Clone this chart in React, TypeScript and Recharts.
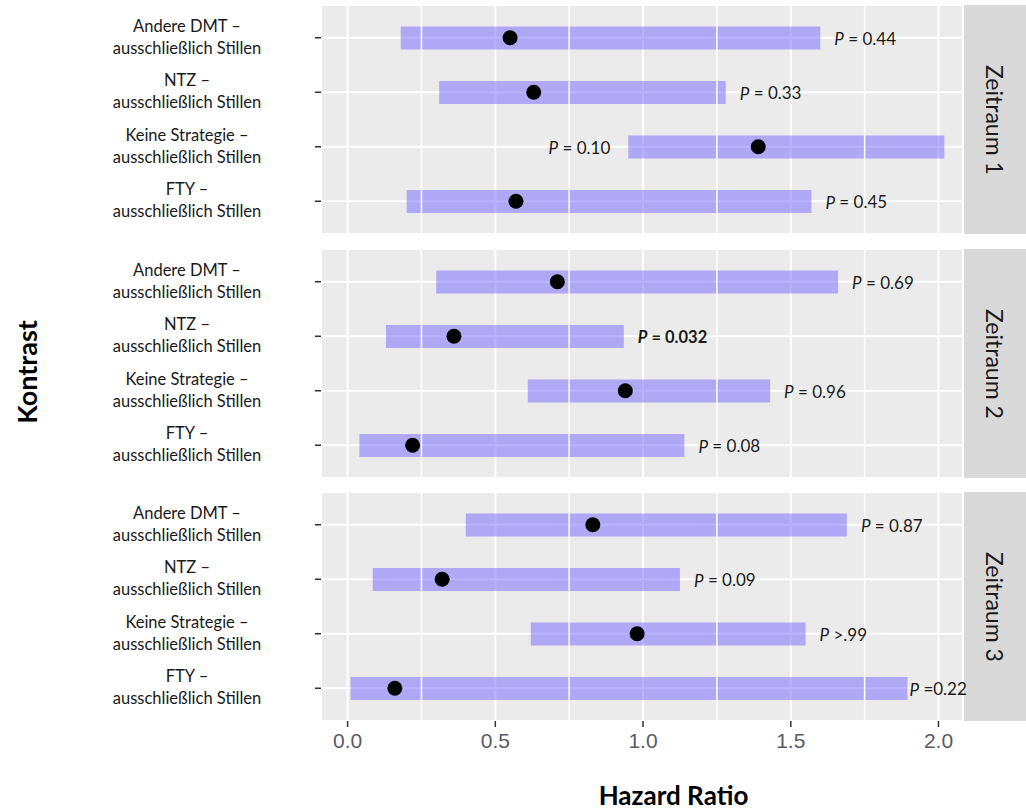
import React from "react";
import {
  Bar,
  CartesianGrid,
  ComposedChart,
  LabelList,
  ReferenceLine,
  Scatter,
  XAxis,
  YAxis,
} from "recharts";

const periods = ["Zeitraum 1", "Zeitraum 2", "Zeitraum 3"];
const contrasts = ["Andere DMT", "NTZ", "Keine Strategie", "FTY"];
const referenceGroup = "ausschließlich Stillen";

// one row per period, one value per contrast
const hazardRatio = [
  [0.55, 0.63, 1.39, 0.57],
  [0.71, 0.36, 0.94, 0.22],
  [0.83, 0.32, 0.98, 0.16],
];
const ciLower = [
  [0.18, 0.31, 0.95, 0.2],
  [0.3, 0.13, 0.61, 0.04],
  [0.4, 0.085, 0.62, 0.01],
];
const ciUpper = [
  [1.6, 1.28, 2.02, 1.57],
  [1.66, 0.935, 1.43, 1.14],
  [1.69, 1.125, 1.55, 1.895],
];
const pValues = [
  ["= 0.44", "= 0.33", "= 0.10", "= 0.45"],
  ["= 0.69", "= 0.032", "= 0.96", "= 0.08"],
  ["= 0.87", "= 0.09", ">.99", "=0.22"],
];

const xTicks = [0, 0.5, 1, 1.5, 2];
const minorTicks = [0.25, 0.75, 1.25, 1.75];

const panelTops = [5, 249, 492];
const PANEL_H = 229;
const AXIS_H = 91;
const PLOT_LEFT = 321;
const PLOT_RIGHT = 963;
const WIDTH = 1026;
const FONT = "Lato, 'Open Sans', sans-serif";

function ContrastTick(props: any) {
  const { y, payload } = props;
  return (
    <text x={187} y={y} textAnchor="middle" fontFamily={FONT} fontSize={16.5} fill="#1a1a1a">
      <tspan x={187} dy={-6}>
        {payload.value} –
      </tspan>
      <tspan x={187} dy={22}>
        {referenceGroup}
      </tspan>
    </text>
  );
}

function Dot(props: any) {
  const { cx, cy } = props;
  if (cx == null || cy == null) return null;
  return <circle cx={cx} cy={cy} r={7.5} fill="#000000" />;
}

function makePLabel(period: number) {
  return function PLabel(props: any) {
    const vb = props.viewBox ?? props;
    const { x, y, width, height } = vb;
    const index = props.index;
    const text = String(props.value);
    const bold = parseFloat(text.replace(/[^0-9.]/g, "")) < 0.05;
    const upper = ciUpper[period][index];
    const placeLeft = upper > 2;
    const gap = upper > 1.85 ? 2 : 14;
    const tx = placeLeft ? x - 18 : x + width + gap;
    return (
      <text
        x={tx}
        y={y + height / 2}
        dominantBaseline="central"
        textAnchor={placeLeft ? "end" : "start"}
        fontFamily={FONT}
        fontSize={bold ? 16.5 : 17}
        fontWeight={bold ? 700 : 400}
        fill="#1a1a1a"
      >
        <tspan fontStyle="italic">P</tspan> {text}
      </text>
    );
  };
}

function Panel({ period, showAxis }: { period: number; showAxis: boolean }) {
  const data = contrasts.map((c, i) => ({
    contrast: c,
    ci: [ciLower[period][i], ciUpper[period][i]],
    hr: hazardRatio[period][i],
    p: pValues[period][i],
  }));
  return (
    <ComposedChart
      layout="vertical"
      width={WIDTH}
      height={PANEL_H + (showAxis ? AXIS_H : 0)}
      data={data}
      margin={{ top: 0, right: WIDTH - PLOT_RIGHT, bottom: 0, left: 0 }}
    >
      <CartesianGrid fill="#ebebeb" stroke="#ffffff" strokeWidth={2} />
      {minorTicks.map((t) => (
        <ReferenceLine key={t} x={t} stroke="#ffffff" strokeWidth={1.5} />
      ))}
      <XAxis
        type="number"
        domain={[-0.09, 2.083]}
        allowDataOverflow
        ticks={xTicks}
        tickFormatter={(v: number) => v.toFixed(1)}
        hide={!showAxis}
        height={AXIS_H}
        axisLine={false}
        tickSize={6}
        tickMargin={6}
        tickLine={{ stroke: "#333333", strokeWidth: 1.5 }}
        tick={{ fontFamily: "'Liberation Sans', Arial, sans-serif", fontSize: 21, fill: "#5a5a66" }}
      />
      <YAxis
        type="category"
        dataKey="contrast"
        width={PLOT_LEFT}
        padding={{ top: 5.5, bottom: 5.5 }}
        axisLine={false}
        tickSize={6}
        tickLine={{ stroke: "#333333", strokeWidth: 1.5 }}
        tick={<ContrastTick />}
      />
      <Bar dataKey="ci" barSize={23} fill="#7766ff" fillOpacity={0.5} isAnimationActive={false}>
        <LabelList dataKey="p" content={makePLabel(period)} />
      </Bar>
      <Scatter dataKey="hr" shape={<Dot />} isAnimationActive={false} />
    </ComposedChart>
  );
}

export default function App() {
  return (
    <div
      style={{
        position: "absolute",
        left: 0,
        top: 0,
        width: WIDTH,
        height: 811,
        background: "#ffffff",
        overflow: "hidden",
      }}
    >
      {periods.map((name, i) => (
        <React.Fragment key={name}>
          <div
            style={{
              position: "absolute",
              left: PLOT_RIGHT,
              top: panelTops[i],
              width: WIDTH - PLOT_RIGHT,
              height: PANEL_H,
              background: "#d9d9d9",
              display: "flex",
              alignItems: "center",
              justifyContent: "center",
            }}
          >
            <span
              style={{
                writingMode: "vertical-rl",
                fontFamily: FONT,
                fontSize: 23,
                color: "#1a1a1a",
              }}
            >
              {name}
            </span>
          </div>
          <div style={{ position: "absolute", left: 0, top: panelTops[i] }}>
            <Panel period={i} showAxis={i === periods.length - 1} />
          </div>
        </React.Fragment>
      ))}
      <div
        style={{
          position: "absolute",
          left: PLOT_LEFT,
          width: WIDTH - PLOT_LEFT,
          top: 778,
          textAlign: "center",
          fontFamily: FONT,
          fontWeight: 700,
          fontSize: 26,
          lineHeight: "34px",
          color: "#000000",
        }}
      >
        Hazard Ratio
      </div>
      <div
        style={{
          position: "absolute",
          left: 26,
          top: 372,
          transform: "translate(-50%, -50%) rotate(-90deg)",
          fontFamily: FONT,
          fontWeight: 700,
          fontSize: 27,
          color: "#000000",
          whiteSpace: "nowrap",
        }}
      >
        Kontrast
      </div>
    </div>
  );
}
